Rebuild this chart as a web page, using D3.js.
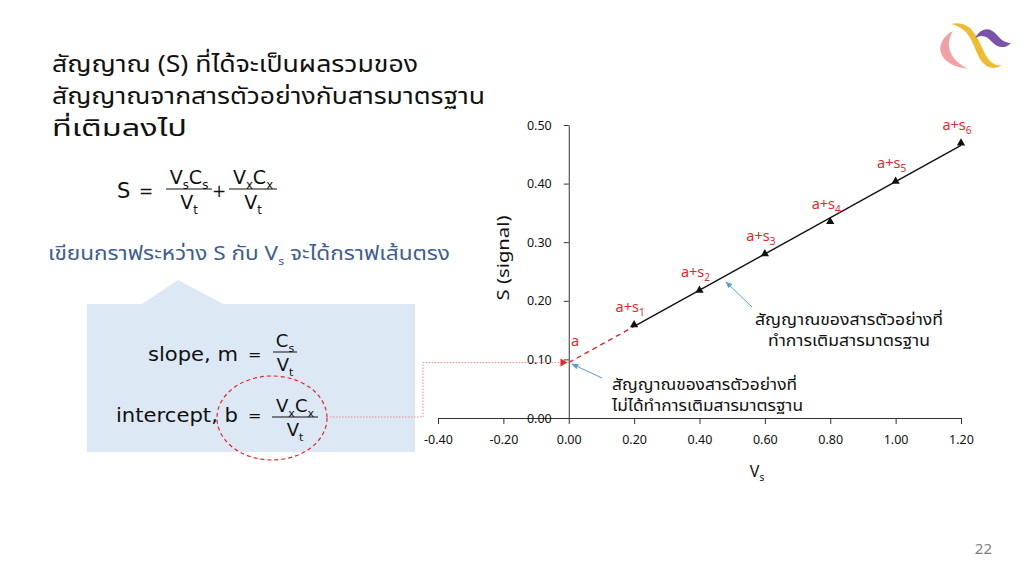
<!DOCTYPE html>
<html><head><meta charset="utf-8">
<script src="https://cdn.jsdelivr.net/npm/d3@7"></script>
<style>
html,body{margin:0;padding:0;background:#fff;}
svg{display:block;font-family:"Noto Sans Thai","Noto Sans Thai UI","Noto Sans",sans-serif;}
</style></head>
<body>
<svg id="c" width="1024" height="576"></svg>
<script>
// ---- data ----
const vsValues = [0.2, 0.4, 0.6, 0.8, 1.0, 1.2];
const signalValues = [0.159, 0.218, 0.280, 0.335, 0.404, 0.469];
const pointLabels = ["1", "2", "3", "4", "5", "6"];
const xTicks = [-0.4, -0.2, 0, 0.2, 0.4, 0.6, 0.8, 1.0, 1.2];
const yTicks = [0, 0.1, 0.2, 0.3, 0.4, 0.5];
const titleLines = ["สัญญาณ (S) ที่ได้จะเป็นผลรวมของ", "สัญญาณจากสารตัวอย่างกับสารมาตรฐาน", "ที่เติมลงไป"];
const titleWidths = [366, 433, 135];
const noteSpiked = ["สัญญาณของสารตัวอย่างที่", "ทำการเติมสารมาตรฐาน"];
const noteSpikedWidths = [188, 162];
const noteBlank = ["สัญญาณของสารตัวอย่างที่", "ไม่ได้ทำการเติมสารมาตรฐาน"];
const noteBlankWidths = [185, 191];

const svg = d3.select("#c");
const red = "#e8262a";

// ---- title ----
svg.append("g").selectAll("text").data(titleLines).join("text")
  .attr("x", 52).attr("y", (d, i) => 72 + i * 32)
  .attr("font-size", 23).attr("fill", "#111")
  .attr("textLength", (d, i) => titleWidths[i]).attr("lengthAdjust", "spacingAndGlyphs")
  .text(d => d);

// helper for fraction with subscripts
function sub(t, parts, size) {
  parts.forEach(p => {
    if (p.s) t.append("tspan").attr("font-size", size * 0.62).attr("dy", size * 0.28).text(p.s);
    else { t.append("tspan").attr("dy", p.reset ? -size * 0.28 : 0).text(p.t); }
  });
}
function frac(g, cx, yBar, w, num, den, size) {
  const n = g.append("text").attr("x", cx).attr("y", yBar - 5).attr("text-anchor", "middle").attr("font-size", size).attr("fill", "#111");
  sub(n, num, size);
  g.append("line").attr("x1", cx - w / 2).attr("x2", cx + w / 2).attr("y1", yBar).attr("y2", yBar).attr("stroke", "#111").attr("stroke-width", 1);
  const d = g.append("text").attr("x", cx).attr("y", yBar + size + 1).attr("text-anchor", "middle").attr("font-size", size).attr("fill", "#111");
  sub(d, den, size);
}

// ---- main formula ----
const f = svg.append("g").attr("font-family", "'DejaVu Sans',sans-serif");
f.append("text").attr("x", 117).attr("y", 198).attr("font-size", 21).attr("fill", "#111").text("S");
f.append("text").attr("x", 139).attr("y", 197).attr("font-size", 17).attr("fill", "#111").text("=");
frac(f, 189, 189, 46, [{t:"V"},{s:"s"},{t:"C",reset:true},{s:"s"}], [{t:"V"},{s:"t"}], 19);
f.append("text").attr("x", 219).attr("y", 197).attr("font-size", 17).attr("text-anchor","middle").attr("fill", "#111").text("+");
frac(f, 253, 189, 48, [{t:"V"},{s:"x"},{t:"C",reset:true},{s:"x"}], [{t:"V"},{s:"t"}], 19);

// ---- blue sentence ----
const bs = svg.append("text").attr("x", 48).attr("y", 260).attr("font-size", 20).attr("fill", "#3d5d95")
  .attr("textLength", 402).attr("lengthAdjust", "spacingAndGlyphs");
bs.append("tspan").text("เขียนกราฟระหว่าง S กับ V");
bs.append("tspan").attr("font-size", 11).attr("dy", 5).text("s");
bs.append("tspan").attr("dy", -5).text(" จะได้กราฟเส้นตรง");

// ---- callout box ----
svg.append("path")
  .attr("d", "M87,304 H142 L178,280 L223,304 H415 V452 H87 Z")
  .attr("fill", "#dce8f4");
const bx = svg.append("g").attr("font-family", "'DejaVu Sans',sans-serif");
bx.append("text").attr("x", 148).attr("y", 361).attr("font-size", 20).attr("fill", "#111")
  .attr("textLength", 90).attr("lengthAdjust", "spacingAndGlyphs").text("slope, m");
bx.append("text").attr("x", 248).attr("y", 360).attr("font-size", 16).attr("fill", "#111").text("=");
frac(bx, 285, 352, 24, [{t:"C"},{s:"s"}], [{t:"V"},{s:"t"}], 18);
bx.append("text").attr("x", 116).attr("y", 422).attr("font-size", 20).attr("fill", "#111")
  .attr("textLength", 122).attr("lengthAdjust", "spacingAndGlyphs").text("intercept, b");
bx.append("text").attr("x", 248).attr("y", 421).attr("font-size", 16).attr("fill", "#111").text("=");
frac(bx, 295, 417, 46, [{t:"V"},{s:"x"},{t:"C",reset:true},{s:"x"}], [{t:"V"},{s:"t"}], 18);
svg.append("ellipse").attr("cx", 272).attr("cy", 418).attr("rx", 55).attr("ry", 42)
  .attr("fill", "none").attr("stroke", red).attr("stroke-width", 1.2).attr("stroke-dasharray", "4,3");

// ---- chart ----
const x = d3.scaleLinear().domain([-0.4, 1.2]).range([438, 961]);
const y = d3.scaleLinear().domain([0, 0.5]).range([418, 125]);
const fmt = d3.format(".2f");

const xa = svg.append("g").attr("transform", `translate(0,${y(0)})`)
  .call(d3.axisBottom(x).tickValues(xTicks).tickSize(6).tickSizeOuter(0).tickPadding(11).tickFormat(d => fmt(d).replace("−", "-")));
const ya = svg.append("g").attr("transform", `translate(${x(0)},0)`)
  .call(d3.axisLeft(y).tickValues(yTicks).tickSize(5).tickSizeOuter(0).tickPadding(12).tickFormat(fmt));
[xa, ya].forEach(a => {
  a.select(".domain").attr("stroke", "#333");
  a.selectAll(".tick line").attr("stroke", "#333");
  a.selectAll("text").attr("font-size", 12.5).attr("fill", "#111").attr("font-family", "'Noto Sans',sans-serif");
});

svg.append("text").attr("transform", `translate(509,258) rotate(-90)`).attr("text-anchor", "middle")
  .attr("font-size", 16).attr("fill", "#111").attr("font-family", "'Noto Sans',sans-serif")
  .attr("textLength", 85).attr("lengthAdjust", "spacingAndGlyphs").text("S (signal)");
const vl = svg.append("text").attr("x", 757).attr("y", 477).attr("text-anchor", "middle").attr("font-size", 16).attr("fill", "#111").attr("font-family", "'Noto Sans',sans-serif");
vl.append("tspan").text("V"); vl.append("tspan").attr("font-size", 10).attr("dy", 4).text("s");

// regression line
const mx = d3.mean(vsValues), my = d3.mean(signalValues);
const slope = d3.sum(vsValues, (v, i) => (v - mx) * (signalValues[i] - my)) / d3.sum(vsValues, v => (v - mx) ** 2);
const icpt = my - slope * mx;
const x0 = d3.min(vsValues), x1 = d3.max(vsValues);

// pink dotted connector
svg.append("path")
  .attr("d", `M330,417 H423 V${y(icpt)} H${x(0) - 8}`)
  .attr("fill", "none").attr("stroke", "#f08a8a").attr("stroke-width", 1).attr("stroke-dasharray", "1.5,1.5");
svg.append("path").attr("d", d3.symbol(d3.symbolTriangle, 28)())
  .attr("transform", `translate(${x(0) - 6},${y(icpt)}) rotate(90)`).attr("fill", red);

// red dashed extrapolation
svg.append("line").attr("x1", x(0)).attr("y1", y(icpt)).attr("x2", x(x0)).attr("y2", y(icpt + slope * x0))
  .attr("stroke", red).attr("stroke-width", 1.4).attr("stroke-dasharray", "5,4");
// solid fit
svg.append("line").attr("x1", x(x0)).attr("y1", y(icpt + slope * x0)).attr("x2", x(x1)).attr("y2", y(icpt + slope * x1))
  .attr("stroke", "#111").attr("stroke-width", 1.4);

// points
svg.append("g").selectAll("path").data(vsValues).join("path")
  .attr("d", d3.symbol(d3.symbolTriangle, 30)())
  .attr("transform", (d, i) => `translate(${x(d)},${y(signalValues[i])})`).attr("fill", "#111");

// point labels
const lbl = svg.append("g").attr("font-family", "'Noto Sans',sans-serif").attr("fill", red).attr("font-size", 14.5);
vsValues.forEach((v, i) => {
  const t = lbl.append("text").attr("x", x(v) - 4).attr("y", y(signalValues[i]) - 13).attr("text-anchor", "middle");
  t.append("tspan").text("a+s");
  t.append("tspan").attr("font-size", 10).attr("dy", 4).text(pointLabels[i]);
});
lbl.append("text").attr("x", 571).attr("y", 346).text("a");

// blue arrows
const defs = svg.append("defs");
defs.append("marker").attr("id", "ba").attr("viewBox", "0 0 10 10").attr("refX", 9).attr("refY", 5)
  .attr("markerWidth", 7).attr("markerHeight", 7).attr("orient", "auto")
  .append("path").attr("d", "M0,1 L10,5 L0,9 Z").attr("fill", "#5b9bd5");
svg.append("line").attr("x1", 602).attr("y1", 378).attr("x2", 572).attr("y2", 364)
  .attr("stroke", "#5b9bd5").attr("stroke-width", 1).attr("marker-end", "url(#ba)");
svg.append("line").attr("x1", 752).attr("y1", 307).attr("x2", 726).attr("y2", 282)
  .attr("stroke", "#5b9bd5").attr("stroke-width", 1).attr("marker-end", "url(#ba)");

// notes
svg.append("g").selectAll("text").data(noteSpiked).join("text")
  .attr("x", 849).attr("y", (d, i) => 325 + i * 21).attr("text-anchor", "middle")
  .attr("font-size", 15).attr("fill", "#111")
  .attr("textLength", (d, i) => noteSpikedWidths[i]).attr("lengthAdjust", "spacingAndGlyphs").text(d => d);
svg.append("g").selectAll("text").data(noteBlank).join("text")
  .attr("x", 612).attr("y", (d, i) => 390 + i * 21)
  .attr("font-size", 15).attr("fill", "#111")
  .attr("textLength", (d, i) => noteBlankWidths[i]).attr("lengthAdjust", "spacingAndGlyphs").text(d => d);

// page number
svg.append("text").attr("x", 992).attr("y", 554).attr("text-anchor", "end").attr("font-size", 15)
  .attr("fill", "#7f7f7f").attr("font-family", "'Noto Sans',sans-serif").text("22");

// logo
const logo = svg.append("g");
logo.append("path").attr("d", "M953,31 C935,40 933,64 968,69 C950,60 944,45 953,31 Z").attr("fill", "#f2a0a4");
logo.append("path").attr("d", "M951,24 C975,19 979,45 987,57 C992,65 998,66 1002,65 C990,73 981,63 977,53 C971,38 967,28 951,24 Z").attr("fill", "#eebd2f");
logo.append("path").attr("d", "M975,38 C982,27 990,27 997,35 C1002,41 1006,43 1011,43 C1004,50 997,47 992,42 C987,36 982,34 975,38 Z").attr("fill", "#7b52a8");
</script>
</body></html>
